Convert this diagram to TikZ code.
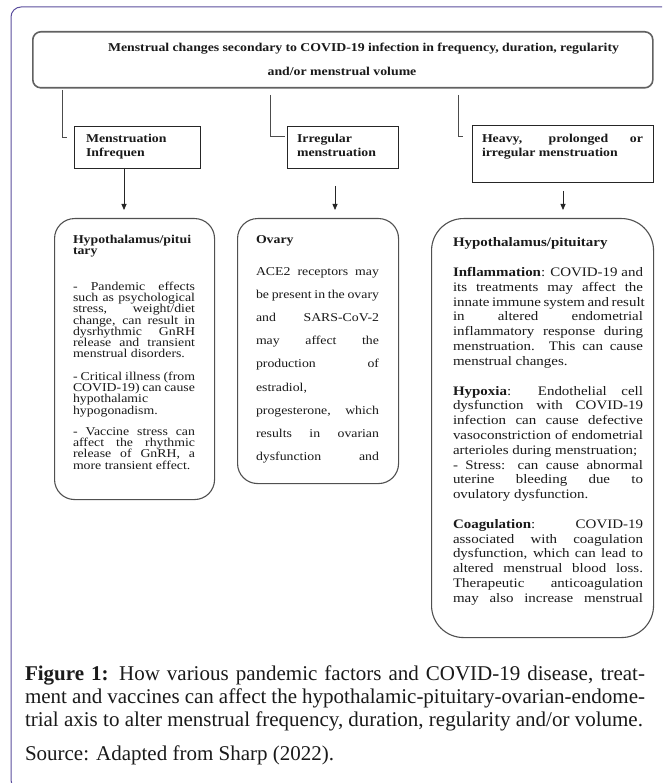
\documentclass[tikz,border=0pt]{standalone}
\usepackage{fontspec}
\setmainfont{Liberation Serif}
\newfontfamily\cam[FakeStretch=1.15]{Liberation Serif}
\usetikzlibrary{arrows.meta}
\definecolor{framec}{HTML}{5B4F9E}
\definecolor{boxgray}{HTML}{505050}
\definecolor{ink}{HTML}{1A1A1A}
\newcommand\JL[5]{\node[tline] (#1) at (#2,#3) {\makebox[#4pt][s]{#5}};}
\newcommand\RL[4]{\node[tline] (#1) at (#2,#3) {#4};}
\tikzset{
  tline/.style={anchor=base west, inner sep=0pt, outer sep=0pt, text=ink},
  rbox/.style={draw=boxgray, line width=1.1pt, rounded corners=20pt, inner sep=0pt, anchor=north west},
  sqbox/.style={draw=black!85, line width=0.9pt, inner sep=0pt, anchor=north west},
  conn/.style={draw=black!70, line width=0.8pt},
  arr/.style={draw=black!85, line width=0.8pt, -{Triangle[length=6pt,width=5pt]}},
  fs12/.style={font=\cam\fontsize{12}{14}\selectfont},
  fs13/.style={font=\cam\fontsize{13}{15}\selectfont},
}
\begin{document}
\begin{tikzpicture}[x=1pt,y=-1pt]
\useasboundingbox (0,0) rectangle (662,783);
\clip (0,0) rectangle (662,783);
\fill[white] (0,0) rectangle (662,783);
% outer frame
\draw[framec, line width=1pt, rounded corners=10pt] (11,7) rectangle (690,790);

% top box
\node[draw=boxgray!90, line width=1.6pt, rounded corners=8pt, inner sep=0pt, anchor=north west,
      minimum width=620pt, minimum height=56pt] (top) at (32,31) {};
\begin{scope}[every node/.append style={fs12}]
\JL{t1}{108}{52}{511}{\bfseries Menstrual changes secondary to COVID-19 infection in frequency, duration, regularity}
\node[tline, anchor=base] (t2) at (342,76) {\bfseries and/or menstrual volume};
\end{scope}

% small boxes
\node[sqbox, minimum width=126pt, minimum height=42pt] (s1) at (74,126) {};
\node[sqbox, minimum width=111pt, minimum height=42pt] (s2) at (287,126) {};
\node[sqbox, minimum width=181pt, minimum height=57pt] (s3) at (472,125) {};
\begin{scope}[every node/.append style={fs12}]
\RL{s1a}{86}{143}{\bfseries Menstruation}
\RL{s1b}{86}{157}{\bfseries Infrequen}
\RL{s2a}{297}{143}{\bfseries Irregular}
\RL{s2b}{297}{157}{\bfseries menstruation}
\JL{s3a}{482}{143}{161}{\bfseries Heavy, prolonged or}
\RL{s3b}{482}{157}{\bfseries irregular menstruation}
\end{scope}

% connectors from top box
\coordinate (c1a) at (62,90);  \coordinate (c1b) at (62,137);  \coordinate (c1c) at (67,137);
\coordinate (c2a) at (270,95); \coordinate (c2b) at (270,136); \coordinate (c2c) at (285,136);
\coordinate (c3a) at (458,95); \coordinate (c3b) at (458,136); \coordinate (c3c) at (463,136);
\draw[conn] (c1a) -- (c1b) -- (c1c);
\draw[conn] (c2a) -- (c2b) -- (c2c);
\draw[conn] (c3a) -- (c3b) -- (c3c);

% big rounded boxes
\node[rbox, minimum width=160pt, minimum height=281pt] (h1) at (54,218) {};
\node[rbox, minimum width=161pt, minimum height=265pt] (h2) at (237,218) {};
\node[rbox, rounded corners=32pt, minimum width=222pt, minimum height=419pt] (h3) at (431,218) {};

% arrows
\coordinate (a1s) at (124,168); \coordinate (a1e) at (124,210);
\coordinate (a2s) at (335,186); \coordinate (a2e) at (335,210);
\coordinate (a3s) at (563,191); \coordinate (a3e) at (563,210);
\draw[arr] (a1s) -- (a1e);
\draw[arr] (a2s) -- (a2e);
\draw[arr] (a3s) -- (a3e);

% box 1 text
\begin{scope}[every node/.append style={fs12}]
\RL{p1}{73}{243.5}{\bfseries Hypothalamus/pitui}
\RL{p2}{73}{254.5}{\bfseries tary}
\JL{p3}{73}{290.5}{122}{- Pandemic effects}
\JL{p4}{73}{301.7}{122}{such as psychological}
\JL{p5}{73}{312.9}{122}{stress, weight/diet}
\JL{p6}{73}{324.1}{122}{change, can result in}
\JL{p7}{73}{335.3}{122}{dysrhythmic GnRH}
\JL{p8}{73}{346.5}{122}{release and transient}
\RL{p9}{73}{357.7}{menstrual disorders.}
\JL{p10}{73}{380.5}{122}{- Critical illness (from}
\JL{p11}{73}{391.7}{122}{COVID-19) can cause}
\RL{p12}{73}{402.9}{hypothalamic}
\RL{p13}{73}{414.1}{hypogonadism.}
\JL{p14}{73}{435.5}{122}{- Vaccine stress can}
\JL{p15}{73}{446.7}{122}{affect the rhythmic}
\JL{p16}{73}{457.9}{122}{release of GnRH, a}
\RL{p17}{73}{469.1}{more transient effect.}
\end{scope}

% box 2 text
\begin{scope}[every node/.append style={fs12}]
\RL{o1}{256}{243.5}{\bfseries Ovary}
\JL{o2}{256}{275.5}{123}{ACE2 receptors may}
\JL{o3}{256}{298.6}{123}{be present in the ovary}
\JL{o4}{256}{321.7}{123}{and SARS-CoV-2}
\JL{o5}{256}{344.8}{123}{may affect the}
\JL{o6}{256}{367.9}{123}{production of}
\RL{o7}{256}{391.0}{estradiol,}
\JL{o8}{256}{414.1}{123}{progesterone, which}
\JL{o9}{256}{437.2}{123}{results in ovarian}
\JL{o10}{256}{460.3}{123}{dysfunction and}
\end{scope}

% box 3 text
\begin{scope}[every node/.append style={fs13}]
\RL{q1}{453}{246.8}{\bfseries Hypothalamus/pituitary}
\JL{q2}{453}{276.4}{190}{\textbf{Inflammation}: COVID-19 and}
\JL{q3}{453}{291.2}{190}{its treatments may affect the}
\JL{q4}{453}{306.0}{190}{innate immune system and result}
\JL{q5}{453}{320.8}{190}{in altered endometrial}
\JL{q6}{453}{335.6}{190}{inflammatory response during}
\JL{q7}{453}{350.4}{190}{menstruation. This can cause}
\RL{q8}{453}{365.2}{menstrual changes.}
\JL{q9}{453}{395.0}{190}{\textbf{Hypoxia}: Endothelial cell}
\JL{q10}{453}{409.8}{190}{dysfunction with COVID-19}
\JL{q11}{453}{424.6}{190}{infection can cause defective}
\JL{q12}{453}{439.4}{190}{vasoconstriction of endometrial}
\RL{q13}{453}{454.2}{arterioles during menstruation;}
\JL{q14}{453}{469.0}{190}{- Stress: can cause abnormal}
\JL{q15}{453}{483.8}{190}{uterine bleeding due to}
\RL{q16}{453}{498.6}{ovulatory dysfunction.}
\JL{q17}{453}{528.2}{190}{\textbf{Coagulation}: COVID-19}
\JL{q18}{453}{543.0}{190}{associated with coagulation}
\JL{q19}{453}{557.8}{190}{dysfunction, which can lead to}
\JL{q20}{453}{572.6}{190}{altered menstrual blood loss.}
\JL{q21}{453}{587.4}{190}{Therapeutic anticoagulation}
\JL{q22}{453}{602.2}{190}{may also increase menstrual}
\end{scope}

% caption
\begin{scope}[every node/.append style={font=\fontsize{21}{23}\selectfont}]
\JL{f1}{25}{680}{620}{\textbf{Figure 1:} How various pandemic factors and COVID-19 disease, treat-}
\JL{f2}{25}{703}{620}{ment and vaccines can affect the hypothalamic-pituitary-ovarian-endome-}
\RL{f3}{25}{726}{trial axis to alter menstrual frequency, duration, regularity and/or volume.}
\RL{f4}{25}{760}{Source: Adapted from Sharp (2022).}
\end{scope}
\end{tikzpicture}
\end{document}
